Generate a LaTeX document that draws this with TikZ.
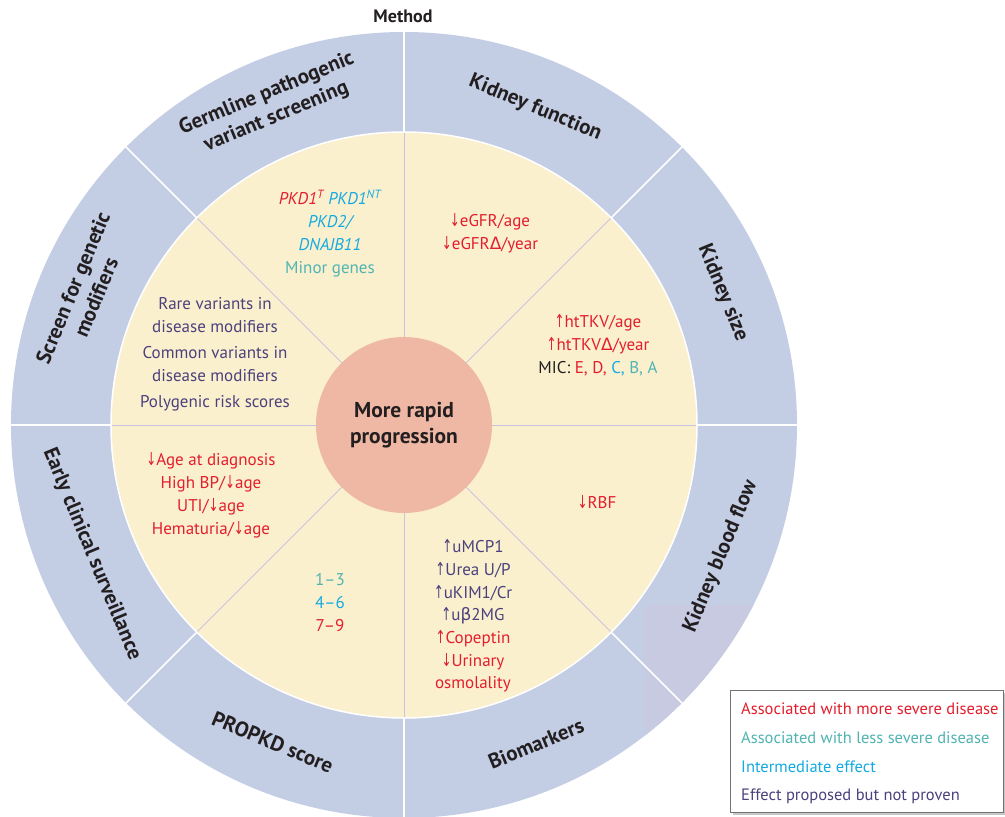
\documentclass[tikz,border=0pt]{standalone}
\usepackage{fontspec}
\setmainfont{PT Sans}
\newfontfamily\symfont{DejaVu Sans}
\newcommand\myup{\scalebox{0.7}[1.05]{\symfont ↑}}
\newcommand\mydn{\scalebox{0.7}[1.05]{\symfont ↓}}
\newcommand\myDelta{{\symfont Δ}}
\newcommand\mybeta{{\symfont β}}
\definecolor{ringblue}{RGB}{195,205,228}
\definecolor{ringtint}{RGB}{200,202,226}
\definecolor{pale}{RGB}{251,240,206}
\definecolor{core}{RGB}{239,184,165}
\definecolor{sev}{RGB}{227,30,45}
\definecolor{less}{RGB}{80,180,178}
\definecolor{midc}{RGB}{20,170,225}
\definecolor{prop}{RGB}{75,65,125}
\definecolor{divl}{RGB}{200,195,225}
\definecolor{ink}{RGB}{35,31,32}
\begin{document}
\begin{tikzpicture}[x=1pt,y=1pt,
  ringlabel/.style={font=\fontsize{21}{25}\selectfont\bfseries, text=ink, align=center, inner sep=0pt},
  body/.style={font=\fontsize{17}{23}\selectfont, align=center, inner sep=0pt},
  legtext/.style={font=\fontsize{16.5}{18}\selectfont, anchor=west, inner sep=0pt}]
\useasboundingbox (-404,-392) rectangle (601,425);
% outer ring
\fill[ringblue] (0,0) circle[radius=393];
\begin{scope}
  \clip (0,0) circle[radius=393];
  \fill[ringtint] (241,-180) rectangle (380,-360);
\end{scope}
\foreach \a in {0,45,...,315} \draw[white, line width=1.6pt] (\a:292pt) -- (\a:395pt);
% yellow disc
\fill[pale, draw=white, line width=1.5pt] (0,0) circle[radius=293];
\foreach \a in {0,45,...,315} \draw[divl, line width=0.8pt] (\a:80pt) -- (\a:292pt);
% centre
\node[circle, fill=core, minimum size=176pt, inner sep=0pt, align=center,
      font=\fontsize{21.5}{26}\selectfont\bfseries, text=ink] (core) at (0,0) {More rapid\\progression};
\node[font=\fontsize{18}{20}\selectfont\bfseries, text=ink] (method) at (-1,409) {Method};
% ring labels
\node[ringlabel, rotate=22.5] (germ) at (112.5:346pt) {Germline pathogenic\\variant screening};
\node[ringlabel, rotate=-22.5] (kfun) at (67.5:343pt) {Kidney function};
\node[ringlabel, rotate=-67.5] (ksize) at (22.5:345pt) {Kidney size};
\node[ringlabel, rotate=67.5] (kflow) at (-22.5:343pt) {Kidney blood flow};
\node[ringlabel, rotate=22.5] (bio) at (-67.5:345pt) {Biomarkers};
\node[ringlabel, rotate=-22.5] (propkd) at (-112.5:343pt) {PROPKD score};
\node[ringlabel, rotate=-67.5] (early) at (-157.5:338pt) {Early clinical surveillance};
\node[ringlabel, rotate=67.5] (screen) at (157.5:346pt) {Screen for genetic\\modifiers};
% sector contents
\node[body] (genes) at (-74,191.5) {\textcolor{sev}{\itshape PKD1\textsuperscript{T}} \textcolor{midc}{\itshape PKD1\textsuperscript{NT}}\\
  \textcolor{midc}{\itshape PKD2/}\\ \textcolor{midc}{\itshape DNAJB11}\\ \textcolor{less}{Minor genes}};
\node[body, text=sev] (egfr) at (86,191.5) {\mydn eGFR/age\\ \mydn eGFR\myDelta/year};
\node[body] (tkv) at (194,80) {\textcolor{sev}{\myup htTKV/age}\\ \textcolor{sev}{\myup htTKV\myDelta/year}\\
  \textcolor{ink}{MIC:} \textcolor{sev}{E, D,} \textcolor{midc}{C,} \textcolor{less}{B, A}};
\node[body, text=prop] (mods) at (-189,71) {Rare variants in\\ disease modifiers\\[3pt] Common variants in\\ disease modifiers\\[3pt] Polygenic risk scores};
\node[body, text=sev] (clin) at (-193,-70.5) {\mydn Age at diagnosis\\ High BP/\mydn age\\ UTI/\mydn age\\ Hematuria/\mydn age};
\node[body, text=sev] (rbf) at (193,-77) {\mydn RBF};
\node[body] (scores) at (-74,-178) {\textcolor{less}{1–3}\\ \textcolor{midc}{4–6}\\ \textcolor{sev}{7–9}};
\node[body, font=\fontsize{17}{22.7}\selectfont] (markers) at (69,-191) {\textcolor{prop}{\myup uMCP1}\\ \textcolor{prop}{\myup Urea U/P}\\ \textcolor{prop}{\myup uKIM1/Cr}\\
  \textcolor{prop}{\myup u\mybeta 2MG}\\ \textcolor{sev}{\myup Copeptin}\\ \textcolor{sev}{\mydn Urinary}\\ \textcolor{sev}{osmolality}};
% legend
\fill[black!22] (329,-268) rectangle (601,-390);
\node[draw=black!55, fill=white, line width=0.8pt, minimum width=273pt, minimum height=122pt, inner sep=0pt] (legend) at (462.5,-326) {};
\node[legtext, text=sev] (l1) at (337,-284) {Associated with more severe disease};
\node[legtext, text=less] (l2) at (337,-313) {Associated with less severe disease};
\node[legtext, text=midc] (l3) at (337,-342) {Intermediate effect};
\node[legtext, text=prop] (l4) at (337,-371) {Effect proposed but not proven};
\end{tikzpicture}
\end{document}
